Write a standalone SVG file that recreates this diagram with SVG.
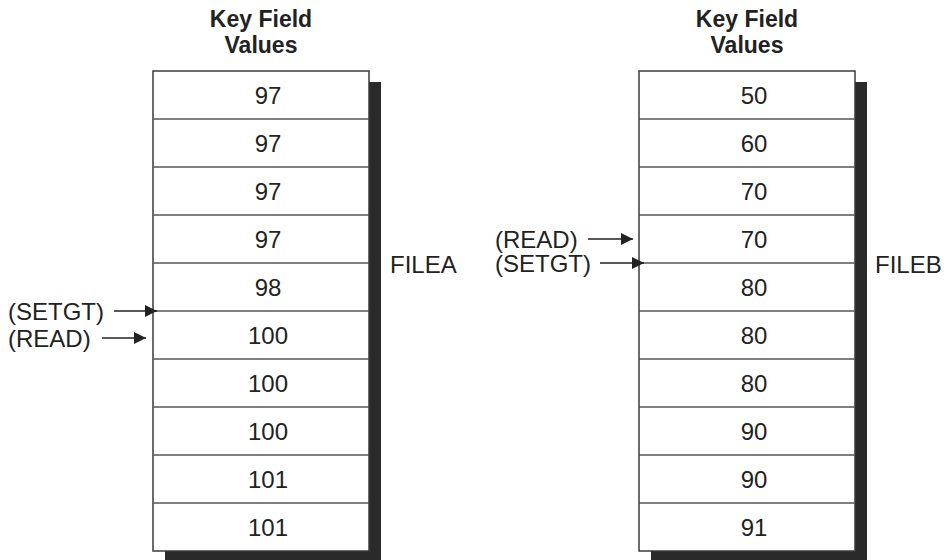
<svg xmlns="http://www.w3.org/2000/svg" width="944" height="560" viewBox="0 0 944 560">
<style>
text { font-family: "Liberation Sans", Arial, sans-serif; fill: #222; }
.title { font-size: 23px; font-weight: bold; text-anchor: middle; }
.val { font-size: 24px; text-anchor: middle; }
.lbl { font-size: 24px; }
.shadow { fill: #2a2a2a; }
.box { fill: #fff; stroke: #3a3a3a; stroke-width: 1.5; }
.row { stroke: #555; stroke-width: 1.5; }
.arr { stroke: #222; stroke-width: 1.5; fill: none; }
</style>
<defs>
<marker id="ah" viewBox="0 0 12 12" refX="12" refY="6" markerWidth="12" markerHeight="12" markerUnits="userSpaceOnUse" orient="auto">
<path d="M0,0 L12,6 L0,12 Z" fill="#222"/>
</marker>
</defs>

<g id="fileA">
<text class="title" x="261" y="27">Key Field</text>
<text class="title" x="261" y="53">Values</text>
<rect class="shadow" x="165" y="82" width="216" height="480"/>
<rect class="box" x="153" y="71" width="216" height="480"/>
<g class="row">
<line x1="153" y1="119" x2="369" y2="119"/>
<line x1="153" y1="167" x2="369" y2="167"/>
<line x1="153" y1="215" x2="369" y2="215"/>
<line x1="153" y1="263" x2="369" y2="263"/>
<line x1="153" y1="311" x2="369" y2="311"/>
<line x1="153" y1="359" x2="369" y2="359"/>
<line x1="153" y1="407" x2="369" y2="407"/>
<line x1="153" y1="455" x2="369" y2="455"/>
<line x1="153" y1="503" x2="369" y2="503"/>
</g>
<text class="val" x="268" y="104">97</text>
<text class="val" x="268" y="152">97</text>
<text class="val" x="268" y="200">97</text>
<text class="val" x="268" y="248">97</text>
<text class="val" x="268" y="296">98</text>
<text class="val" x="268" y="344">100</text>
<text class="val" x="268" y="392">100</text>
<text class="val" x="268" y="440">100</text>
<text class="val" x="268" y="488">101</text>
<text class="val" x="268" y="536">101</text>
<text class="lbl" x="390" y="273">FILEA</text>
</g>

<g id="fileB">
<text class="title" x="747" y="27">Key Field</text>
<text class="title" x="747" y="53">Values</text>
<rect class="shadow" x="651" y="82" width="216" height="480"/>
<rect class="box" x="639" y="71" width="216" height="480"/>
<g class="row">
<line x1="639" y1="119" x2="855" y2="119"/>
<line x1="639" y1="167" x2="855" y2="167"/>
<line x1="639" y1="215" x2="855" y2="215"/>
<line x1="639" y1="263" x2="855" y2="263"/>
<line x1="639" y1="311" x2="855" y2="311"/>
<line x1="639" y1="359" x2="855" y2="359"/>
<line x1="639" y1="407" x2="855" y2="407"/>
<line x1="639" y1="455" x2="855" y2="455"/>
<line x1="639" y1="503" x2="855" y2="503"/>
</g>
<text class="val" x="754" y="104">50</text>
<text class="val" x="754" y="152">60</text>
<text class="val" x="754" y="200">70</text>
<text class="val" x="754" y="248">70</text>
<text class="val" x="754" y="296">80</text>
<text class="val" x="754" y="344">80</text>
<text class="val" x="754" y="392">80</text>
<text class="val" x="754" y="440">90</text>
<text class="val" x="754" y="488">90</text>
<text class="val" x="754" y="536">91</text>
<text class="lbl" x="875" y="273">FILEB</text>
</g>

<g id="labelsA">
<text class="lbl" x="8" y="320">(SETGT)</text>
<text class="lbl" x="8" y="347">(READ)</text>
</g>
<g id="labelsB">
<text class="lbl" x="495" y="248">(READ)</text>
<text class="lbl" x="495" y="272">(SETGT)</text>
</g>

<g id="connectors">
<line class="arr" x1="114" y1="311" x2="157" y2="311" marker-end="url(#ah)"/>
<line class="arr" x1="102" y1="338" x2="146" y2="338" marker-end="url(#ah)"/>
<line class="arr" x1="588" y1="239" x2="633" y2="239" marker-end="url(#ah)"/>
<line class="arr" x1="600" y1="263" x2="644" y2="263" marker-end="url(#ah)"/>
</g>
</svg>
